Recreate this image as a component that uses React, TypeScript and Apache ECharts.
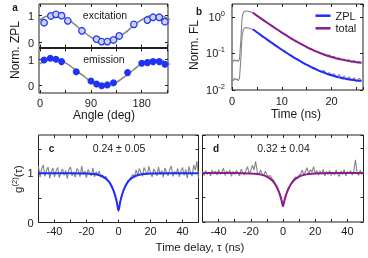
import React, { useEffect, useRef } from "react";
import * as echarts from "echarts";

const FONT = "'Liberation Sans', Arial, Helvetica, sans-serif";
const TXT = "#1a1a1a";
const FRAME = "#222";
const GRAY = "#858585";
const BLUE = "#1f2bff";
const PURPLE = "#8c1c8c";

// ---- panel a: polarization ----
const angleTicks = [0, 45, 90, 135, 180, 225];
const angleLabels = [0, 90, 180];
const excAngle = [7, 19, 28, 38, 49, 74, 100, 109, 119, 130, 140, 166, 190, 200, 211, 221];
const excitation = [0.74, 0.99, 1.05, 1.0, 0.81, 0.44, 0.13, 0.04, 0.04, 0.1, 0.25, 0.68, 0.84, 0.94, 0.94, 0.78];
const emAngle = [7, 18, 28, 38, 64, 90, 100, 109, 119, 130, 155, 180, 190, 200, 211, 221];
const emission = [0.98, 1.05, 1.01, 0.92, 0.53, 0.18, 0.065, 0.0, 0.03, 0.11, 0.5, 0.86, 0.88, 0.92, 0.92, 0.82];
const fitAngle = [-3, 0, 15, 30, 45, 60, 75, 90, 105, 120, 135, 150, 165, 180, 195, 210, 225, 230];
const excFit = [0.81, 0.85, 1.0, 1.02, 0.91, 0.7, 0.44, 0.21, 0.06, 0.04, 0.15, 0.36, 0.62, 0.85, 1.0, 1.02, 0.91, 0.85];
const emFit = [0.79, 0.84, 0.98, 0.99, 0.87, 0.65, 0.4, 0.17, 0.02, 0.01, 0.13, 0.35, 0.6, 0.84, 0.98, 0.99, 0.87, 0.81];

// ---- panel b: lifetime ----
const tGray = [0, 0.25, 0.5, 0.75, 1, 1.25, 1.5, 1.75, 2, 2.25, 2.5, 2.75, 3, 3.25, 3.5, 3.75, 4,
  4.5, 5, 5.5, 6, 6.5, 7, 7.5, 8, 8.5, 9, 9.5, 10, 10.5, 11, 11.5, 12, 12.5, 13, 13.5, 14, 14.5, 15,
  15.5, 16, 16.5, 17, 17.5, 18, 18.5, 19, 19.5, 20, 20.5, 21, 21.5, 22, 22.5, 23, 23.5, 24, 24.5, 25, 25.5, 26];
const zplGray = [0.020, 0.018, 0.021, 0.019, 0.020, 0.018, 0.021, 0.06, 0.28, 0.45, 0.50, 0.51, 0.51, 0.50, 0.49, 0.48, 0.46,
  0.43, 0.385, 0.34, 0.30, 0.275, 0.245, 0.215, 0.196, 0.172, 0.158, 0.138, 0.128, 0.112, 0.104, 0.092, 0.085, 0.077, 0.071,
  0.063, 0.059, 0.052, 0.050, 0.046, 0.042, 0.039, 0.037, 0.033, 0.032, 0.034, 0.027, 0.030, 0.026, 0.028, 0.022, 0.027,
  0.021, 0.024, 0.020, 0.023, 0.018, 0.022, 0.017, 0.021, 0.018];
const totalGray = [0.065, 0.061, 0.068, 0.062, 0.066, 0.060, 0.070, 0.20, 0.90, 1.30, 1.42, 1.46, 1.46, 1.44, 1.42, 1.38, 1.33,
  1.22, 1.09, 0.98, 0.88, 0.79, 0.70, 0.64, 0.57, 0.51, 0.46, 0.42, 0.375, 0.34, 0.31, 0.28, 0.255, 0.23, 0.21, 0.197,
  0.178, 0.162, 0.152, 0.137, 0.130, 0.119, 0.114, 0.103, 0.100, 0.096, 0.088, 0.091, 0.080, 0.083, 0.072, 0.077, 0.068,
  0.071, 0.063, 0.067, 0.058, 0.064, 0.055, 0.060, 0.056];
const tFit = [4.2, 5, 6, 7, 8, 9, 10, 11, 12, 13, 14, 15, 16, 17, 18, 19, 20, 21, 22, 23, 24, 25, 26];
const zplFit = [0.46, 0.383, 0.305, 0.243, 0.195, 0.157, 0.127, 0.103, 0.0845, 0.0698, 0.0581, 0.049, 0.0418, 0.0361,
  0.0316, 0.0281, 0.0253, 0.0232, 0.0214, 0.0201, 0.019, 0.0182, 0.0175];
const totalFit = [1.31, 1.094, 0.877, 0.705, 0.569, 0.461, 0.375, 0.307, 0.253, 0.211, 0.177, 0.15, 0.129, 0.112, 0.0989,
  0.0883, 0.08, 0.0733, 0.0681, 0.0639, 0.0606, 0.058, 0.0559];

// ---- panels c, d: g2 ----
const tau = Array.from({ length: 101 }, (_, i) => i - 50);
const g2c = [
  1.14, 0.92, 1.10, 1.17, 0.94, 1.06, 1.13, 0.90, 1.03, 1.11,
  0.93, 1.05, 1.12, 0.91, 1.02, 1.09, 0.96, 1.06, 0.89, 1.08,
  1.13, 0.95, 1.03, 0.92, 1.10, 1.05, 0.93, 1.15, 0.98, 1.04,
  0.91, 1.08, 1.01, 0.95, 1.11, 0.93, 1.03, 0.97, 1.05, 0.92,
  0.97, 0.89, 0.94, 0.85, 0.84, 0.76, 0.70, 0.62, 0.52, 0.41,
  0.27,
  0.43, 0.55, 0.63, 0.73, 0.76, 0.86, 0.87, 0.93, 0.98, 0.93,
  1.07, 0.97, 1.10, 1.02, 0.94, 1.12, 1.04, 0.97, 1.14, 1.01,
  0.93, 1.09, 1.03, 0.95, 1.13, 0.97, 1.06, 0.92, 1.11, 1.02,
  0.95, 1.08, 1.15, 0.94, 1.04, 0.98, 1.10, 0.93, 1.05, 1.12,
  0.96, 1.08, 0.90, 1.14, 1.01, 0.94, 1.17, 1.06, 1.25, 0.90];
const g2d = [
  1.03, 0.95, 1.05, 0.97, 1.02, 0.94, 1.06, 0.98, 1.04, 0.96,
  1.07, 0.97, 1.03, 1.10, 0.95, 1.04, 0.98, 1.06, 0.93, 1.03,
  0.97, 1.05, 1.00, 0.94, 1.08, 1.01, 0.96, 1.06, 1.13, 0.98,
  1.05, 1.16, 1.06, 1.24, 1.02, 0.96, 1.06, 0.98, 0.94, 1.04,
  0.97, 0.93, 0.95, 0.89, 0.86, 0.80, 0.74, 0.66, 0.58, 0.47,
  0.33,
  0.46, 0.57, 0.66, 0.71, 0.79, 0.84, 0.88, 0.92, 0.90, 0.96,
  0.98, 1.06, 0.95, 1.04, 1.11, 0.97, 1.07, 1.02, 1.13, 0.98,
  1.05, 0.96, 1.04, 0.98, 1.07, 0.94, 1.03, 0.97, 1.05, 0.95,
  1.02, 0.96, 1.06, 0.98, 0.93, 1.04, 0.97, 1.07, 0.94, 1.03,
  0.98, 1.05, 0.96, 1.04, 1.27, 1.00, 0.95, 1.06, 0.97, 1.03];
const tauFit = [-50, -30, -20, -16, -13, -11, -9, -8, -7, -6, -5, -4, -3, -2, -1, 0, 1, 2, 3, 4, 5, 6, 7, 8, 9, 11, 13, 16, 20, 30, 50];
const g2cFit = [1, 1, 0.995, 0.986, 0.971, 0.951, 0.92, 0.897, 0.868, 0.83, 0.782, 0.72, 0.641, 0.539, 0.408, 0.24,
  0.408, 0.539, 0.641, 0.72, 0.782, 0.83, 0.868, 0.897, 0.92, 0.951, 0.971, 0.986, 0.995, 1, 1];
const g2dFit = [1, 1, 0.992, 0.981, 0.962, 0.941, 0.908, 0.885, 0.857, 0.821, 0.776, 0.72, 0.651, 0.564, 0.455, 0.32,
  0.455, 0.564, 0.651, 0.72, 0.776, 0.821, 0.857, 0.885, 0.908, 0.941, 0.962, 0.981, 0.992, 1, 1];

const zip = (xs: number[], ys: number[]) => xs.map((x, i) => [x, ys[i]]);

const tick = { inside: true, length: 3, lineStyle: { color: FRAME, width: 1 } };
const lab = { color: TXT, fontSize: 11, fontFamily: FONT };
const hidden = { show: false, onZero: false };

function mkX(gridIndex: number, min: number, max: number, extra: any, top = false) {
  return {
    type: "value", gridIndex, min, max, position: top ? "top" : "bottom",
    axisLine: hidden, splitLine: { show: false },
    axisTick: tick, axisLabel: { show: false }, ...extra,
  };
}
function mkY(gridIndex: number, min: number, max: number, extra: any, right = false) {
  return {
    type: "value", gridIndex, min, max, position: right ? "right" : "left",
    axisLine: hidden, splitLine: { show: false },
    axisTick: tick, axisLabel: { show: false }, ...extra,
  };
}

const t = (text: string, x: number, y: number, extra: any = {}) => ({
  type: "text", x, y, silent: true, ...extra,
  style: { text, fill: TXT, font: `11px ${FONT}`, align: "center", verticalAlign: "middle", ...(extra.style || {}) },
});

export default function App() {
  const ref = useRef<HTMLDivElement>(null);
  useEffect(() => {
    const chart = echarts.init(ref.current!, null, { renderer: "svg" });
    const gridBase = { show: true, borderColor: FRAME, borderWidth: 1, backgroundColor: "transparent", containLabel: false };
    const fmtLog = (v: number) => {
      const l = Math.log10(v);
      const e = Math.round(l);
      if (Math.abs(l - e) > 0.01) return "";
      return `{b|10}{s|${e}}`;
    };
    const option: any = {
      animation: false,
      textStyle: { fontFamily: FONT },
      grid: [
        { ...gridBase, left: 39, top: 4, width: 129, height: 43.5 },
        { ...gridBase, left: 39, top: 48.5, width: 129, height: 44.5 },
        { ...gridBase, left: 232, top: 4, width: 131, height: 86 },
        { ...gridBase, left: 38.5, top: 135, width: 160, height: 87.5 },
        { ...gridBase, left: 202.5, top: 135, width: 161, height: 87 },
      ],
      xAxis: [
        mkX(0, -2, 226.5, { axisTick: { ...tick, customValues: angleTicks } }),
        mkX(1, -2, 226.5, {
          axisTick: { ...tick, customValues: angleTicks },
          axisLabel: { ...lab, margin: 4, customValues: angleLabels },
        }),
        mkX(2, 0, 26.3, {
          interval: 5,
          axisLabel: { ...lab, margin: 5, formatter: (v: number) => (v % 10 === 0 ? String(v) : "") },
        }),
        mkX(3, -50, 50, {
          interval: 10,
          axisLabel: { ...lab, margin: 3, formatter: (v: number) => (v % 20 === 0 ? String(v) : "") },
        }),
        mkX(4, -50, 50, {
          interval: 10,
          axisLabel: { ...lab, margin: 3, formatter: (v: number) => (v % 20 === 0 ? String(v) : "") },
        }),
        mkX(0, -2, 226.5, { axisTick: { ...tick, customValues: angleTicks } }, true),
        mkX(1, -2, 226.5, { axisTick: { ...tick, customValues: angleTicks } }, true),
        mkX(2, 0, 26.3, { interval: 5 }, true),
        mkX(3, -50, 50, { interval: 10 }, true),
        mkX(4, -50, 50, { interval: 10 }, true),
      ],
      yAxis: [
        mkY(0, -0.178, 1.433, {
          axisTick: { ...tick, customValues: [0, 1] },
          axisLabel: { ...lab, margin: 5, customValues: [0, 1] },
        }),
        mkY(1, -0.279, 1.42, {
          axisTick: { ...tick, customValues: [0, 1] },
          axisLabel: { ...lab, margin: 5, customValues: [0, 1] },
        }),
        {
          type: "log", logBase: 10, gridIndex: 2, min: 0.01, max: 2.27, position: "left",
          axisLine: hidden, splitLine: { show: false }, minorTick: { show: false },
          axisTick: tick,
          axisLabel: {
            ...lab, margin: 7, formatter: fmtLog, showMaxLabel: false,
            rich: {
              b: { fontSize: 11, fontFamily: FONT, color: TXT },
              s: { fontSize: 7.5, fontFamily: FONT, color: TXT, padding: [0, 0, 7, 0] },
            },
          },
        },
        mkY(3, 0, 1.78, {
          interval: 0.5,
          axisLabel: { ...lab, margin: 5, showMaxLabel: false, formatter: (v: number) => (v === 0 || v === 1 ? String(v) : "") },
        }),
        mkY(4, 0, 1.776, { interval: 0.5 }),
        mkY(0, -0.178, 1.433, { axisTick: { ...tick, customValues: [0, 1] } }, true),
        mkY(1, -0.279, 1.42, { axisTick: { ...tick, customValues: [0, 1] } }, true),
        {
          type: "log", logBase: 10, gridIndex: 2, min: 0.01, max: 2.27, position: "right",
          axisLine: hidden, splitLine: { show: false }, axisTick: tick, axisLabel: { show: false },
        },
        mkY(3, 0, 1.78, { interval: 0.5 }, true),
        mkY(4, 0, 1.776, { interval: 0.5 }, true),
      ],
      legend: {
        data: ["ZPL", "total"], orient: "vertical", left: 315.5, top: 9.4, padding: 0,
        itemWidth: 15, itemHeight: 2.5, itemGap: 0, icon: "rect", selectedMode: false,
        textStyle: { fontSize: 11, fontFamily: FONT, color: TXT, lineHeight: 12.6 },
      },
      series: [
        {
          type: "line", xAxisIndex: 0, yAxisIndex: 0, data: zip(fitAngle, excFit), smooth: true,
          symbol: "none", lineStyle: { color: GRAY, width: 1.5 }, z: 1,
        },
        {
          type: "scatter", xAxisIndex: 0, yAxisIndex: 0, data: zip(excAngle, excitation), symbol: "circle", symbolSize: 6.5,
          itemStyle: { color: "#cdd5ff", borderColor: "#2a3af0", borderWidth: 1.3, opacity: 1 }, z: 3,
        },
        {
          type: "line", xAxisIndex: 1, yAxisIndex: 1, data: zip(fitAngle, emFit), smooth: true,
          symbol: "none", lineStyle: { color: GRAY, width: 1.5 }, z: 1,
        },
        {
          type: "scatter", xAxisIndex: 1, yAxisIndex: 1, data: zip(emAngle, emission), symbol: "circle", symbolSize: 7,
          itemStyle: { color: "#1f33f5", opacity: 1 }, z: 3,
        },
        {
          type: "line", xAxisIndex: 2, yAxisIndex: 2, data: zip(tGray, zplGray), symbol: "none",
          lineStyle: { color: GRAY, width: 1.1 }, z: 1,
        },
        {
          type: "line", xAxisIndex: 2, yAxisIndex: 2, data: zip(tGray, totalGray), symbol: "none",
          lineStyle: { color: GRAY, width: 1.1 }, z: 1,
        },
        {
          name: "ZPL", type: "line", xAxisIndex: 2, yAxisIndex: 2, data: zip(tFit, zplFit), smooth: true,
          symbol: "none", color: BLUE, lineStyle: { color: BLUE, width: 2 }, z: 2,
        },
        {
          name: "total", type: "line", xAxisIndex: 2, yAxisIndex: 2, data: zip(tFit, totalFit), smooth: true,
          symbol: "none", color: PURPLE, lineStyle: { color: PURPLE, width: 2 }, z: 2,
        },
        {
          type: "line", xAxisIndex: 3, yAxisIndex: 3, data: zip(tau, g2c), symbol: "none",
          lineStyle: { color: GRAY, width: 1.1 }, z: 1,
        },
        {
          type: "line", xAxisIndex: 3, yAxisIndex: 3, data: zip(tauFit, g2cFit), symbol: "none", smooth: 0.3,
          lineStyle: { color: BLUE, width: 2 }, z: 2,
        },
        {
          type: "line", xAxisIndex: 4, yAxisIndex: 4, data: zip(tau, g2d), symbol: "none",
          lineStyle: { color: GRAY, width: 1.1 }, z: 1,
        },
        {
          type: "line", xAxisIndex: 4, yAxisIndex: 4, data: zip(tauFit, g2dFit), symbol: "none", smooth: 0.3,
          lineStyle: { color: PURPLE, width: 2 }, z: 2,
        },
      ],
      graphic: [
        t("a", 15, 7, { style: { font: `bold 10px ${FONT}` } }),
        t("b", 199, 11, { style: { font: `bold 10px ${FONT}` } }),
        t("c", 51.5, 148, { style: { font: `bold 10px ${FONT}` } }),
        t("d", 216, 148, { style: { font: `bold 10px ${FONT}` } }),
        t("excitation", 105, 15, { style: { font: `10.5px ${FONT}` } }),
        t("emission", 104, 59, { style: { font: `10.5px ${FONT}` } }),
        t("0.24 ± 0.05", 119, 148, { style: { font: `10.5px ${FONT}` } }),
        t("0.32 ± 0.04", 283.5, 148, { style: { font: `10.5px ${FONT}` } }),
        t("Norm. ZPL", 15, 50, { rotation: Math.PI / 2, style: { font: `12px ${FONT}` } }),
        t("Angle (deg)", 104, 115, { style: { font: `12px ${FONT}` } }),
        t("Norm. FL", 194, 45, { rotation: Math.PI / 2, style: { font: `12px ${FONT}` } }),
        t("Time (ns)", 296, 114, { style: { font: `12px ${FONT}` } }),
        t("Time delay, τ (ns)", 200, 247, { style: { font: `11.5px ${FONT}` } }),
        {
          type: "text", x: 18, y: 179, rotation: Math.PI / 2, silent: true,
          style: {
            text: "{n|g}{s|(2)}{n|(τ)}", align: "center", verticalAlign: "middle", fill: TXT,
            rich: {
              n: { fontSize: 11.5, fontFamily: FONT, fill: TXT },
              s: { fontSize: 7.5, fontFamily: FONT, fill: TXT, padding: [0, 0, 7, 0] },
            },
          },
        },
      ],
    };
    chart.setOption(option);
    return () => chart.dispose();
  }, []);
  return <div ref={ref} style={{ position: "fixed", left: 0, top: 0, width: 368, height: 258 }} />;
}
